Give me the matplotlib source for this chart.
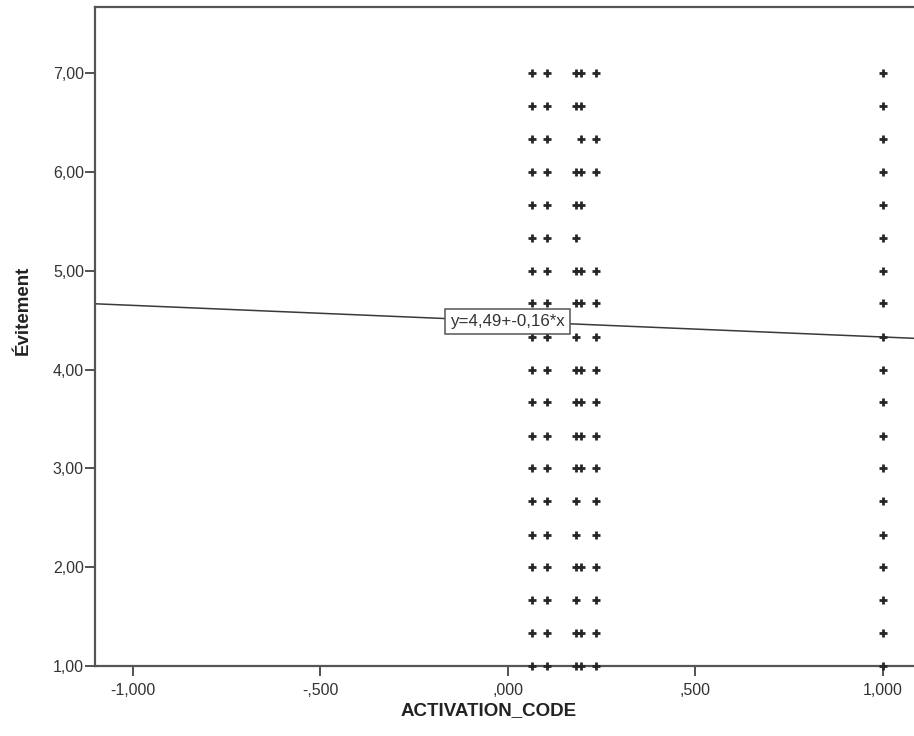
import matplotlib

matplotlib.use("Agg")
import matplotlib.pyplot as plt
from matplotlib.ticker import FixedLocator, FixedFormatter

plt.rcParams["font.family"] = ["Liberation Sans", "DejaVu Sans"]

# response levels observed (scale 1..7 in thirds)
ALL_LEVELS = [1.00, 1.33, 1.67, 2.00, 2.33, 2.67, 3.00, 3.33, 3.67, 4.00,
              4.33, 4.67, 5.00, 5.33, 5.67, 6.00, 6.33, 6.67, 7.00]

# ACTIVATION_CODE columns and the Évitement values present at each
col_x = [0.064, 0.104, 0.181, 0.195, 0.235, 1.000]
col_y = [
    ALL_LEVELS,
    ALL_LEVELS,
    [1.00, 1.33, 1.67, 2.00, 2.33, 2.67, 3.00, 3.33, 3.67, 4.00,
     4.33, 4.67, 5.00, 5.33, 5.67, 6.00, 6.67, 7.00],
    [1.00, 1.33, 2.00, 3.00, 3.33, 3.67, 4.00, 4.67, 5.00, 5.67,
     6.00, 6.33, 6.67, 7.00],
    [1.00, 1.33, 1.67, 2.00, 2.33, 2.67, 3.00, 3.33, 3.67, 4.00,
     4.33, 4.67, 5.00, 6.00, 6.33, 7.00],
    ALL_LEVELS,
]

intercept = 4.49
slope = -0.16
fit_label = "y=4,49+-0,16*x"

x_ticks = [-1.0, -0.5, 0.0, 0.5, 1.0]
x_tick_labels = ["-1,000", "-,500", ",000", ",500", "1,000"]
y_ticks = [1, 2, 3, 4, 5, 6, 7]
y_tick_labels = ["1,00", "2,00", "3,00", "4,00", "5,00", "6,00", "7,00"]

XLIM = (-1.101, 1.083)
YLIM = (1.0, 7.67)

fig = plt.figure(figsize=(9.14, 7.36), dpi=100)
ax = fig.add_axes([95 / 914, 70 / 736, 819 / 914, 659 / 736])

for x, ys in zip(col_x, col_y):
    ax.plot([x] * len(ys), ys, linestyle="none", marker="+", ms=6,
            mew=2.0, color="#262626", zorder=3, clip_on=False)

ax.plot(XLIM, [intercept + slope * XLIM[0], intercept + slope * XLIM[1]],
        color="#3a3a3a", lw=1.1, zorder=2)
ax.text(0.0, intercept + slope * 0.0, fit_label, ha="center", va="center",
        fontsize=12.2, color="#333333", zorder=5,
        bbox=dict(boxstyle="square,pad=0.3", facecolor="white",
                  edgecolor="#555555", linewidth=1.1))

ax.set_xlim(*XLIM)
ax.set_ylim(*YLIM)
ax.xaxis.set_major_locator(FixedLocator(x_ticks))
ax.xaxis.set_major_formatter(FixedFormatter(x_tick_labels))
ax.yaxis.set_major_locator(FixedLocator(y_ticks))
ax.yaxis.set_major_formatter(FixedFormatter(y_tick_labels))
ax.tick_params(axis="both", direction="out", length=7, width=1.3,
               color="#444444", labelsize=11.5, labelcolor="#333333")
ax.tick_params(axis="x", pad=5)
ax.tick_params(axis="y", pad=1)

for side in ("left", "bottom", "top"):
    ax.spines[side].set_color("#555555")
    ax.spines[side].set_linewidth(1.6)
ax.spines["right"].set_visible(False)

ax.set_xlabel("ACTIVATION_CODE", fontsize=13.5, fontweight="bold", color="#222222")
ax.set_ylabel("Évitement", fontsize=13.5, fontweight="bold", color="#222222")
ax.xaxis.set_label_coords(0.481, -0.055)
ax.yaxis.set_label_coords(-0.077, 0.540)

fig.savefig("out.png", dpi=100)
